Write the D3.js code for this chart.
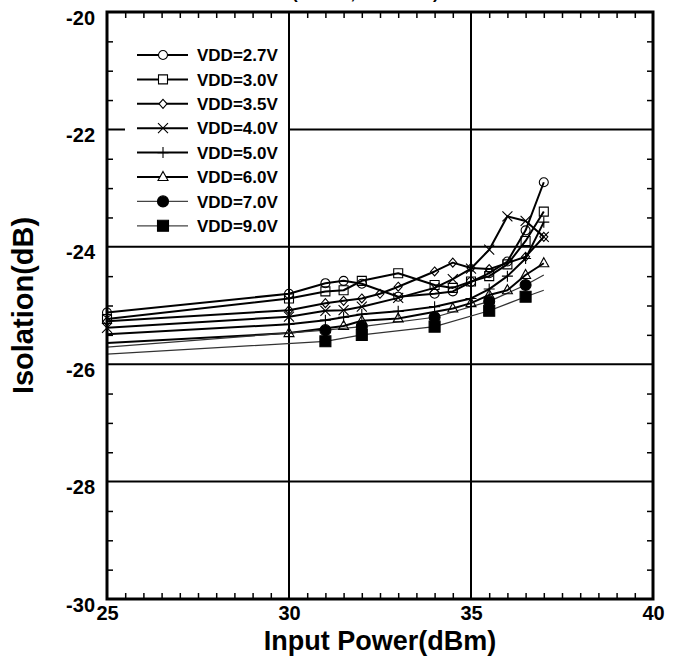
<!DOCTYPE html>
<html>
<head>
<meta charset="utf-8">
<script src="https://cdn.jsdelivr.net/npm/d3@7"></script>
<style>
  body { margin: 0; background: #fff; }
  svg text { font-family: "Liberation Sans", Arial, sans-serif; font-weight: bold; }
</style>
</head>
<body>
<div class="chart"></div>
<script>
// 各組 VDD 的量測資料 (Input Power dBm -> Isolation dB)
const vdd27X = [25, 30, 31, 31.5, 32, 33, 34, 34.5, 35, 35.5, 36, 36.5, 37];
const vdd27Y = [-25.12, -24.8, -24.62, -24.58, -24.63, -24.85, -24.8, -24.76, -24.6, -24.45, -24.25, -23.72, -22.9];

const vdd30X = [25, 30, 31, 31.5, 32, 33, 34, 34.5, 35, 35.5, 36, 36.5, 37];
const vdd30Y = [-25.23, -24.88, -24.76, -24.74, -24.58, -24.45, -24.65, -24.7, -24.59, -24.5, -24.3, -23.9, -23.4];

const vdd35X = [25, 30, 31, 31.5, 32, 32.5, 33, 34, 34.5, 35, 35.5, 36.5, 37];
const vdd35Y = [-25.27, -25.08, -24.96, -24.92, -24.88, -24.8, -24.68, -24.42, -24.27, -24.36, -24.38, -24.17, -23.83];

const vdd40X = [25, 30, 31, 31.5, 32, 33, 34, 34.5, 35, 35.5, 36, 36.5, 37];
const vdd40Y = [-25.38, -25.19, -25.09, -25.08, -25.02, -24.87, -24.7, -24.55, -24.37, -24.05, -23.48, -23.56, -23.83];

const vdd50X = [25, 30, 31, 31.5, 32, 33, 34, 35, 35.5, 36, 36.5, 37];
const vdd50Y = [-25.49, -25.32, -25.25, -25.2, -25.15, -25.1, -25.02, -24.88, -24.72, -24.5, -24.2, -23.58];

const vdd60X = [25, 30, 31.5, 32, 33, 34.5, 35, 35.5, 36, 36.5, 37];
const vdd60Y = [-25.64, -25.47, -25.35, -25.26, -25.22, -25.05, -24.96, -24.82, -24.74, -24.48, -24.28];

const vdd70X = [25, 31, 32, 34, 35.5, 36.5, 37];
const vdd70Y = [-25.71, -25.42, -25.36, -25.2, -24.93, -24.65, -24.48];

const vdd90X = [25, 31, 32, 34, 35.5, 36.5, 37];
const vdd90Y = [-25.83, -25.61, -25.5, -25.36, -25.09, -24.85, -24.74];

// 沒有畫記號的點 (只有線)
const vdd50NoMark = [25];
const vdd60NoMark = [25];
const vdd70NoMark = [25, 37];
const vdd90NoMark = [25, 37];

const seriesNames = ['VDD=2.7V', 'VDD=3.0V', 'VDD=3.5V', 'VDD=4.0V', 'VDD=5.0V', 'VDD=6.0V', 'VDD=7.0V', 'VDD=9.0V'];
const xTicks = [25, 30, 35, 40];
const yTicks = [-30, -28, -26, -24, -22, -20];

// 組成 series
const makeValues = (xs, ys, noMark) => xs.map((x, i) => ({ x: x, y: ys[i], mark: !(noMark || []).includes(x) }));
const series = [
    { name: seriesNames[0], shape: 'circle', values: makeValues(vdd27X, vdd27Y) },
    { name: seriesNames[1], shape: 'square', values: makeValues(vdd30X, vdd30Y) },
    { name: seriesNames[2], shape: 'diamond', values: makeValues(vdd35X, vdd35Y) },
    { name: seriesNames[3], shape: 'x', values: makeValues(vdd40X, vdd40Y) },
    { name: seriesNames[4], shape: 'plus', values: makeValues(vdd50X, vdd50Y, vdd50NoMark) },
    { name: seriesNames[5], shape: 'triangle', values: makeValues(vdd60X, vdd60Y, vdd60NoMark) },
    { name: seriesNames[6], shape: 'dot', values: makeValues(vdd70X, vdd70Y, vdd70NoMark) },
    { name: seriesNames[7], shape: 'block', values: makeValues(vdd90X, vdd90Y, vdd90NoMark) }
];

// 記號形狀
const shapePath = {
    circle: 'M4.5,0A4.5,4.5,0,1,1,-4.5,0A4.5,4.5,0,1,1,4.5,0Z',
    square: 'M-4.5,-4.5H4.5V4.5H-4.5Z',
    diamond: 'M0,-4.5L4,0L0,4.5L-4,0Z',
    x: 'M-5,-5L5,5M-5,5L5,-5',
    plus: 'M-5.5,0H5.5M0,-5.5V5.5',
    triangle: 'M0,-5.5L5,3.5H-5Z',
    dot: 'M5.5,0A5.5,5.5,0,1,1,-5.5,0A5.5,5.5,0,1,1,5.5,0Z',
    block: 'M-5.5,-5.5H5.5V5.5H-5.5Z'
};
const isFilled = s => s === 'dot' || s === 'block';
const isThin = s => s === 'dot' || s === 'block';

const svg_width = 680, svg_height = 658;
const svg = d3.select('.chart').append('svg')
    .attr('width', svg_width).attr('height', svg_height);

const xScale = d3.scaleLinear().domain([25, 40]).range([107, 653]);
const yScale = d3.scaleLinear().domain([-30, -20]).range([599, 12]);
const plotLeft = xScale(25), plotRight = xScale(40), plotTop = yScale(-20), plotBottom = yScale(-30);

// 上方被裁切的標題
svg.append('text')
    .attr('x', 292).attr('y', -1)
    .style('font-size', '17px')
    .text('(VC=0V, f=2.4GHz)');

// 格線
const grid = svg.append('g').attr('class', 'grid');
grid.selectAll('.vgrid').data([30, 35]).enter().append('line')
    .attr('x1', d => xScale(d)).attr('x2', d => xScale(d))
    .attr('y1', plotTop).attr('y2', plotBottom)
    .style('stroke', '#000').style('stroke-width', 2);
grid.selectAll('.hgrid').data([-28, -26, -24, -22]).enter().append('line')
    .attr('x1', plotLeft).attr('x2', plotRight)
    .attr('y1', d => yScale(d)).attr('y2', d => yScale(d))
    .style('stroke', '#000').style('stroke-width', 2);

// 小刻度 (四邊朝內)
const xMinor = d3.range(25.5, 40, 0.5).filter(d => d % 5 !== 0);
const yMinor = d3.range(-29.5, -20, 0.5).filter(d => d % 2 !== 0);
const tickLen = 6;
svg.append('g').attr('transform', `translate(0,${plotBottom})`)
    .call(d3.axisTop(xScale).tickValues(xMinor).tickSize(tickLen).tickFormat(''))
    .call(g => g.select('.domain').remove());
svg.append('g').attr('transform', `translate(0,${plotTop})`)
    .call(d3.axisBottom(xScale).tickValues(xMinor).tickSize(tickLen).tickFormat(''))
    .call(g => g.select('.domain').remove());
svg.append('g').attr('transform', `translate(${plotLeft},0)`)
    .call(d3.axisRight(yScale).tickValues(yMinor).tickSize(tickLen).tickFormat(''))
    .call(g => g.select('.domain').remove());
svg.append('g').attr('transform', `translate(${plotRight},0)`)
    .call(d3.axisLeft(yScale).tickValues(yMinor).tickSize(tickLen).tickFormat(''))
    .call(g => g.select('.domain').remove());
svg.selectAll('.tick line').style('stroke-width', 1.5);

// 刻度文字 (用一般的連字號當負號)
const xAxis = svg.append('g').attr('transform', `translate(0,${plotBottom})`)
    .call(d3.axisBottom(xScale).tickValues(xTicks).tickSize(0).tickPadding(7).tickFormat(d => String(d)));
const yAxis = svg.append('g').attr('transform', `translate(${plotLeft},0)`)
    .call(d3.axisLeft(yScale).tickValues(yTicks).tickSize(0).tickPadding(12).tickFormat(d => String(d)));
[xAxis, yAxis].forEach(g => {
    g.select('.domain').remove();
    g.selectAll('text').style('font-size', '20px').style('fill', '#000');
});
yAxis.selectAll('text').attr('dy', '0.6em');

// 圖例底 (白色遮住格線)
svg.append('rect')
    .attr('x', 125).attr('y', 37).attr('width', 163).attr('height', 207)
    .style('fill', '#fff');

// 折線
const lineGen = d3.line()
    .x(d => xScale(d.x))
    .y(d => yScale(d.y));

const chartGroup = svg.append('g').attr('class', 'line-chart');
series.forEach(s => {
    chartGroup.append('path')
        .attr('d', lineGen(s.values))
        .style('fill', 'none')
        .style('stroke', isThin(s.shape) ? '#333' : '#000')
        .style('stroke-width', isThin(s.shape) ? 1.2 : 2)
        .style('stroke-linejoin', 'round');
});
series.forEach(s => {
    chartGroup.selectAll(null)
        .data(s.values.filter(d => d.mark)).enter()
        .append('path')
        .attr('transform', d => `translate(${xScale(d.x)},${yScale(d.y)})`)
        .attr('d', shapePath[s.shape])
        .style('fill', isFilled(s.shape) ? '#000' : 'none')
        .style('stroke', '#000')
        .style('stroke-width', 1.1);
});

// 圖例
const legend = svg.append('g').attr('class', 'legend');
const legendItem = legend.selectAll('.legend-item')
    .data(series).enter()
    .append('g')
    .attr('transform', (d, i) => `translate(0,${55 + i * 24.4})`);
legendItem.append('line')
    .attr('x1', 137).attr('x2', 188)
    .style('stroke', d => isThin(d.shape) ? '#444' : '#000')
    .style('stroke-width', d => isThin(d.shape) ? 1.2 : 2);
legendItem.append('path')
    .attr('transform', 'translate(163,0)')
    .attr('d', d => shapePath[d.shape])
    .style('fill', d => isFilled(d.shape) ? '#000' : '#fff')
    .style('stroke', '#000')
    .style('stroke-width', 1.1);
legendItem.append('text')
    .attr('x', 197).attr('dy', '0.36em')
    .style('font-size', '17px')
    .text(d => d.name);

// 外框
svg.append('rect')
    .attr('x', plotLeft).attr('y', plotTop)
    .attr('width', plotRight - plotLeft).attr('height', plotBottom - plotTop)
    .style('fill', 'none').style('stroke', '#000').style('stroke-width', 3);

// 軸標題
svg.append('text')
    .attr('x', 380).attr('y', 650)
    .attr('text-anchor', 'middle')
    .style('font-size', '27px')
    .text('Input Power(dBm)');
svg.append('text')
    .attr('transform', `translate(33,${(plotTop + plotBottom) / 2}) rotate(-90)`)
    .attr('text-anchor', 'middle')
    .style('font-size', '29px')
    .text('Isolation(dB)');
</script>
</body>
</html>
